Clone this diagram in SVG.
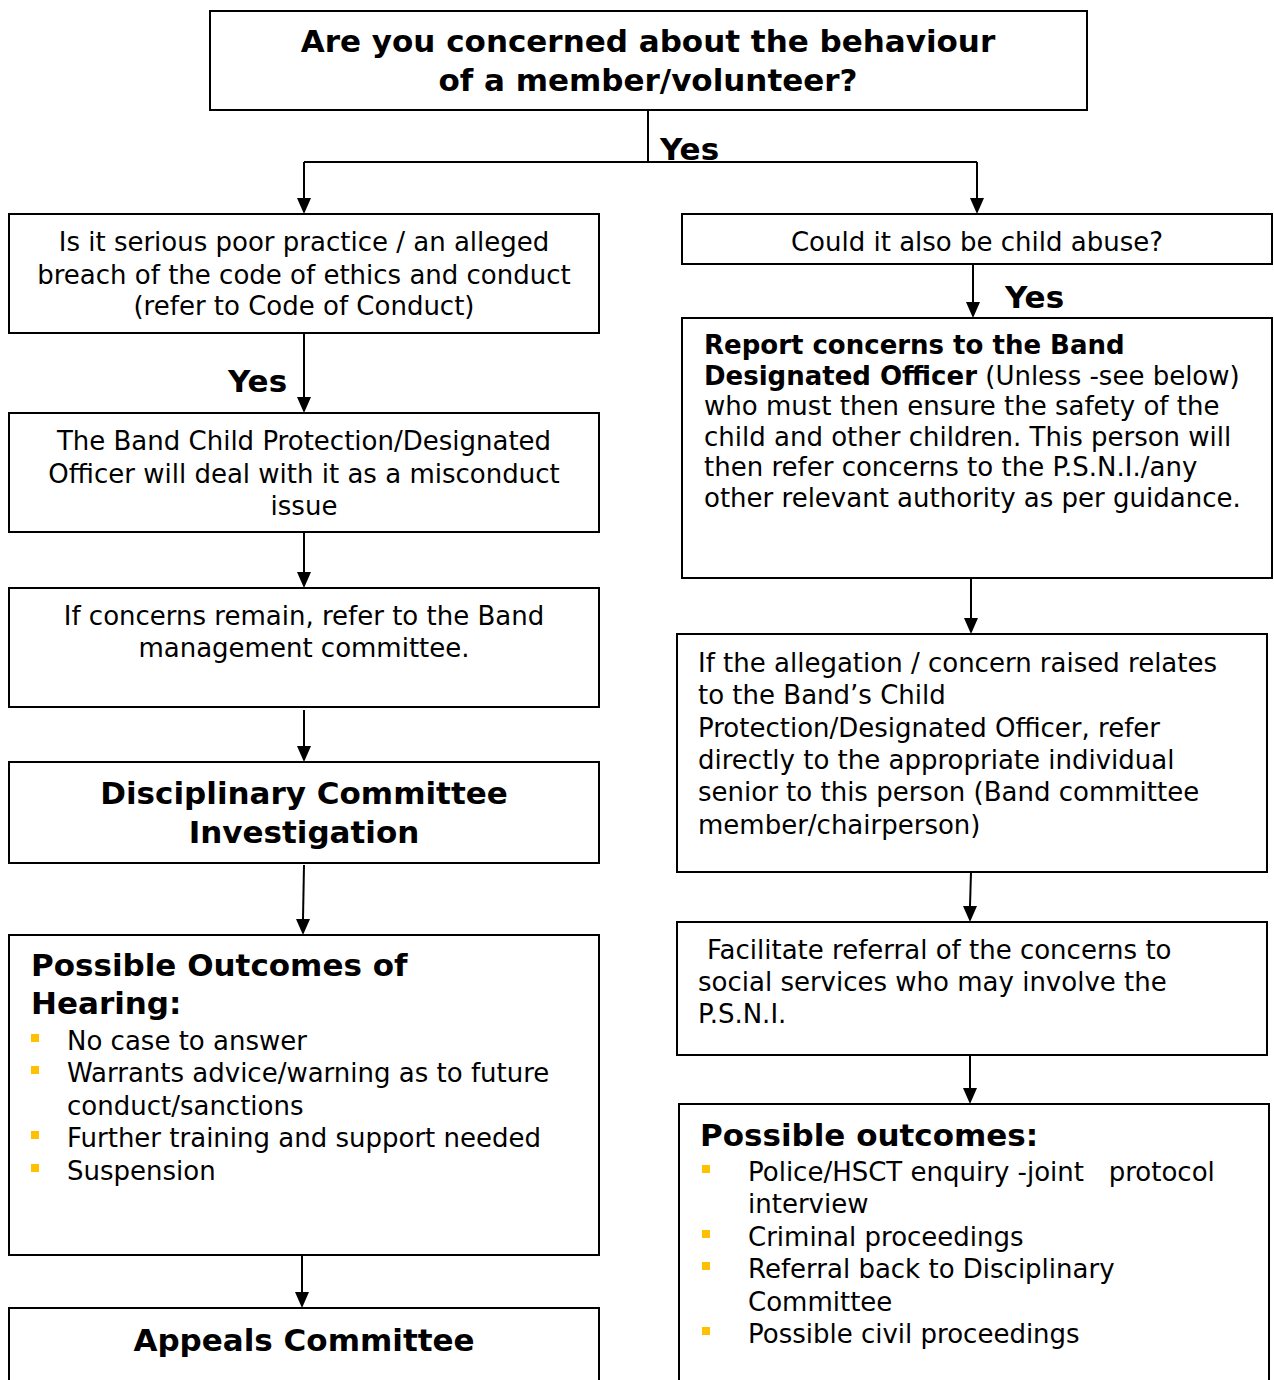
<svg xmlns="http://www.w3.org/2000/svg" width="1274" height="1380" viewBox="0 0 1274 1380">
<style>
.box{fill:#fff;stroke:#000;stroke-width:2}
.t{font-family:"DejaVu Sans","Liberation Sans",sans-serif;font-size:26px;fill:#000}
.b{font-family:"DejaVu Sans","Liberation Sans",sans-serif;font-size:31px;font-weight:bold;fill:#000}
.c{text-anchor:middle}
.bul{fill:#FFC000}
.ln{stroke:#000;stroke-width:2;fill:none}
.pre{white-space:pre}
</style>
<rect width="1274" height="1380" fill="#fff"/>

<g id="connectors">
<path class="ln" d="M648,110 V162 M304,162 H977"/>
<path class="ln" d="M304,162 V198"/><path d="M297,198 L311,198 L304,214 Z"/>
<path class="ln" d="M977,162 V198"/><path d="M970,198 L984,198 L977,214 Z"/>
<path class="ln" d="M304,333 V397"/><path d="M297,397 L311,397 L304,413 Z"/>
<path class="ln" d="M304,532 V572"/><path d="M297,572 L311,572 L304,588 Z"/>
<path class="ln" d="M304,710 V746"/><path d="M297,746 L311,746 L304,762 Z"/>
<path class="ln" d="M304,865 L303,919"/><path d="M296,919 L310,919 L303,935 Z"/>
<path class="ln" d="M302,1253 V1292"/><path d="M295,1292 L309,1292 L302,1308 Z"/>
<path class="ln" d="M973,264 V302"/><path d="M966,302 L980,302 L973,318 Z"/>
<path class="ln" d="M971,578 V618"/><path d="M964,618 L978,618 L971,634 Z"/>
<path class="ln" d="M971,872 L970,906"/><path d="M963,906 L977,906 L970,922 Z"/>
<path class="ln" d="M970,1055 V1088"/><path d="M963,1088 L977,1088 L970,1104 Z"/>
<text class="b" x="660" y="160">Yes</text>
<text class="b" x="228" y="392">Yes</text>
<text class="b" x="1005" y="308">Yes</text>
</g>

<g id="n-top">
<rect class="box" x="210" y="11" width="877" height="99"/>
<text class="b c" x="648" y="52">Are you concerned about the behaviour</text>
<text class="b c" x="648" y="91">of a member/volunteer?</text>
</g>

<g id="n-serious">
<rect class="box" x="9" y="214" width="590" height="119"/>
<text class="t c" x="304" y="251">Is it serious poor practice / an alleged</text>
<text class="t c" x="304" y="284">breach of the code of ethics and conduct</text>
<text class="t c" x="304" y="315">(refer to Code of Conduct)</text>
</g>

<g id="n-officer">
<rect class="box" x="9" y="413" width="590" height="119"/>
<text class="t c" x="304" y="450">The Band Child Protection/Designated</text>
<text class="t c" x="304" y="483">Officer will deal with it as a misconduct</text>
<text class="t c" x="304" y="515">issue</text>
</g>

<g id="n-remain">
<rect class="box" x="9" y="588" width="590" height="119"/>
<text class="t c" x="304" y="625">If concerns remain, refer to the Band</text>
<text class="t c" x="304" y="657">management committee.</text>
</g>

<g id="n-disciplinary">
<rect class="box" x="9" y="762" width="590" height="101"/>
<text class="b c" x="304" y="804">Disciplinary Committee</text>
<text class="b c" x="304" y="843">Investigation</text>
</g>

<g id="n-hearing">
<rect class="box" x="9" y="935" width="590" height="320"/>
<text class="b" x="31" y="976">Possible Outcomes of</text>
<text class="b" x="31" y="1014">Hearing:</text>
<rect class="bul" x="31" y="1034" width="8" height="8"/>
<text class="t" x="67" y="1050">No case to answer</text>
<rect class="bul" x="31" y="1066" width="8" height="8"/>
<text class="t" x="67" y="1082">Warrants advice/warning as to future</text>
<text class="t" x="67" y="1115">conduct/sanctions</text>
<rect class="bul" x="31" y="1131" width="8" height="8"/>
<text class="t" x="67" y="1147">Further training and support needed</text>
<rect class="bul" x="31" y="1164" width="8" height="8"/>
<text class="t" x="67" y="1180">Suspension</text>
</g>

<g id="n-appeals">
<rect class="box" x="9" y="1308" width="590" height="80"/>
<text class="b c" x="304" y="1351">Appeals Committee</text>
</g>

<g id="n-abuse">
<rect class="box" x="682" y="214" width="590" height="50"/>
<text class="t c" x="977" y="251">Could it also be child abuse?</text>
</g>

<g id="n-report">
<rect class="box" x="682" y="318" width="590" height="260"/>
<text class="t" x="704" y="354" font-weight="bold">Report concerns to the Band</text>
<text class="t" x="704" y="385"><tspan font-weight="bold">Designated Officer</tspan> (Unless -see below)</text>
<text class="t" x="704" y="415">who must then ensure the safety of the</text>
<text class="t" x="704" y="446">child and other children. This person will</text>
<text class="t" x="704" y="476">then refer concerns to the P.S.N.I./any</text>
<text class="t" x="704" y="507">other relevant authority as per guidance.</text>
</g>

<g id="n-allegation">
<rect class="box" x="677" y="634" width="590" height="238"/>
<text class="t" x="698" y="672">If the allegation / concern raised relates</text>
<text class="t" x="698" y="704">to the Band’s Child</text>
<text class="t" x="698" y="737">Protection/Designated Officer, refer</text>
<text class="t" x="698" y="769">directly to the appropriate individual</text>
<text class="t" x="698" y="801">senior to this person (Band committee</text>
<text class="t" x="698" y="834">member/chairperson)</text>
</g>

<g id="n-facilitate">
<rect class="box" x="677" y="922" width="590" height="133"/>
<text class="t" x="707" y="959">Facilitate referral of the concerns to</text>
<text class="t" x="698" y="991">social services who may involve the</text>
<text class="t" x="698" y="1023">P.S.N.I.</text>
</g>

<g id="n-outcomes">
<rect class="box" x="679" y="1104" width="590" height="290"/>
<text class="b" x="700" y="1146">Possible outcomes:</text>
<rect class="bul" x="702" y="1165" width="8" height="8"/>
<text class="t pre" x="748" y="1181">Police/HSCT enquiry -joint   protocol</text>
<text class="t" x="748" y="1213">interview</text>
<rect class="bul" x="702" y="1230" width="8" height="8"/>
<text class="t" x="748" y="1246">Criminal proceedings</text>
<rect class="bul" x="702" y="1262" width="8" height="8"/>
<text class="t" x="748" y="1278">Referral back to Disciplinary</text>
<text class="t" x="748" y="1311">Committee</text>
<rect class="bul" x="702" y="1327" width="8" height="8"/>
<text class="t" x="748" y="1343">Possible civil proceedings</text>
</g>
</svg>
